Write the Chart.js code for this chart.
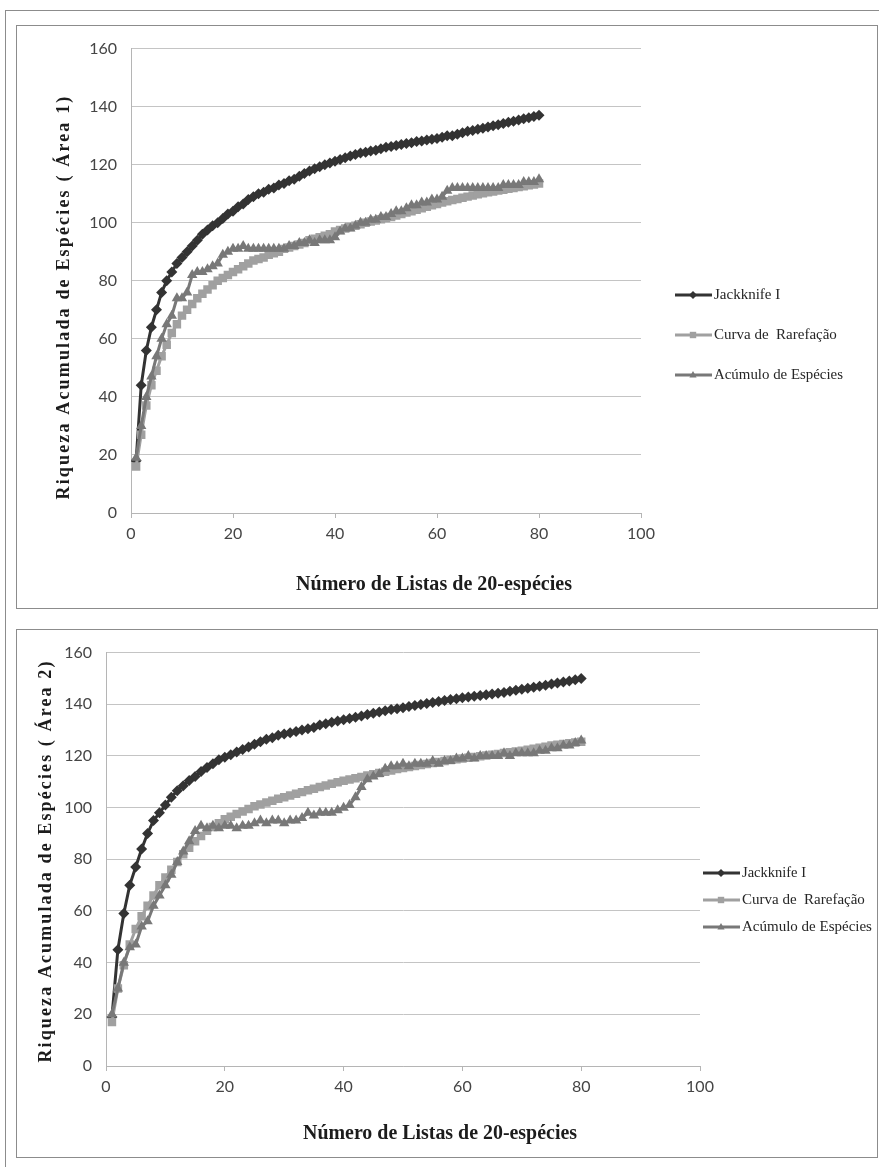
<!DOCTYPE html>
<html>
<head>
<meta charset="utf-8">
<script src="https://cdn.jsdelivr.net/npm/chart.js@4.4.1/dist/chart.umd.min.js"></script>
<style>
body { margin: 0; background: #fff; }
#page { position: relative; width: 879px; height: 1167px; overflow: hidden; background: #fff; }
.frame { position: absolute; box-sizing: border-box; border: 1px solid #8c8c8c; }
canvas { position: absolute; }
</style>
</head>
<body>
<div id="page">
  <div class="frame" style="left:5px;top:10px;width:890px;height:1180px;"></div>
  <div class="frame" style="left:16px;top:25px;width:862px;height:584px;"></div>
  <div class="frame" style="left:16px;top:629px;width:862px;height:529px;"></div>
  <canvas id="area1" width="861" height="583" style="left:16px;top:25px"></canvas>
  <canvas id="area2" width="861" height="528" style="left:16px;top:629px"></canvas>
</div>
<script>
// número de listas de 20 espécies (eixo x)
var listas = [];
for (var i = 1; i <= 80; i++) listas.push(i);

var xTicks = [0, 20, 40, 60, 80, 100];
var yTicks = [0, 20, 40, 60, 80, 100, 120, 140, 160];
var seriesNames = ['Jackknife I', 'Curva de  Rarefação', 'Acúmulo de Espécies'];

// Área 1
var jack1 = [18,44,56,64,70,76,80,83,86,88, 90,92,94,96,97.5,99,100,101.5,103,104,
  105.5,106.5,108,109,110,110.5,111.5,112,113,113.5, 114.5,115,116,117,117.8,118.6,119.3,120,120.6,121.2,
  121.8,122.4,123,123.5,124,124.3,124.7,125,125.5,126, 126.3,126.6,127,127.3,127.6,128,128.2,128.5,128.8,129,
  129.5,130,130,130.5,131,131.5,131.8,132.2,132.6,133, 133.4,133.8,134.2,134.6,135,135.4,135.8,136.2,136.6,137];
var curva1 = [16,27,37,44,49,54,58,62,65,68, 70,72,74,75.5,77,78.5,80,81,82,83,
  84,85,86,87,87.5,88,89,89.5,90,91, 91.5,92,92.5,93,94,94.5,95,95.5,96,97,
  97.5,98,98.5,99,99.5,100,100.4,100.8,101.2,101.6, 102,102.5,103,103.5,104,104.5,105,105.5,106,106.5,
  107,107.4,107.8,108.2,108.6,109,109.4,109.8,110.2,110.5, 110.8,111.1,111.4,111.7,112,112.3,112.6,112.9,113.2,113.5];
var acum1 = [19,30,40,47,54,60,65,68,74,74, 76,82,83,83,84,85,86,89,90,91,
  91,92,91,91,91,91,91,91,91,91, 92,92,93,93,94,93,94,94,94,95,
  97,98,98,99,100,100,101,101,102,102, 103,104,104,105,106,106,107,107,108,108,
  109,111,112,112,112,112,112,112,112,112, 112,112,113,113,113,113,114,114,114,115];

// Área 2
var jack2 = [19,45,59,70,77,84,90,95,98,101, 104,106.5,108.5,110.5,112,114,115.5,117,118.5,119.5,
  120.5,121.5,122.5,123.5,124.5,125.5,126.5,127,128,128.5, 129,129.5,130,130.5,131,132,132.5,133,133.5,134,
  134.5,135,135.5,136,136.5,137,137.5,138,138.3,138.7, 139.1,139.5,139.9,140.3,140.7,141.1,141.5,141.8,142.1,142.5,
  142.8,143.1,143.4,143.7,144,144.3,144.6,145,145.4,145.8, 146.2,146.6,147,147.4,147.8,148.2,148.6,149,149.5,150];
var curva2 = [17,30,39,47,53,58,62,66,70,73, 76,79,82,84.5,87,89,91,92.5,94,95.5,
  96.5,97.5,98.5,99.5,100.5,101.2,102,102.7,103.4,104, 104.7,105.4,106,106.7,107.3,108,108.6,109.2,109.8,110.4,
  110.9,111.4,111.9,112.4,112.9,113.4,113.9,114.4,114.9,115.3, 115.7,116.1,116.5,116.9,117.3,117.7,118,118.4,118.7,119,
  119.3,119.6,119.9,120.2,120.5,120.8,121.1,121.4,121.7,122, 122.4,122.8,123.2,123.6,124,124.3,124.6,124.9,125.2,125.5];
var acum2 = [20,30,40,46,47,54,56,62,66,70, 74,79,83,87,91,93,92,93,92,93,
  93,92,93,93,94,95,94,95,95,94, 95,95,96,98,97,98,98,98,99,100,
  101,104,108,111,112,113,115,116,116,117, 116,117,117,117,118,117,118,118,119,119,
  120,119,120,120,120,120,121,120,121,121, 121,121,122,122,123,123,124,124,125,126];

var estilos = [
    { color: '#333333', pointStyle: 'rectRot', radius: 5.5, order: 2 },
    { color: '#a0a0a0', pointStyle: 'rect', radius: 6, order: 1 },
    { color: '#787878', pointStyle: 'triangle', radius: 6, order: 0 }
];

function pontos(values) {
    return values.map(function (v, i) { return { x: listas[i], y: v }; });
}

function drawMarker(ctx, style, x, y, r) {
    ctx.beginPath();
    if (style === 'rectRot') {
        ctx.moveTo(x, y - r); ctx.lineTo(x + r, y); ctx.lineTo(x, y + r); ctx.lineTo(x - r, y);
    } else if (style === 'rect') {
        ctx.rect(x - r * 0.8, y - r * 0.8, r * 1.6, r * 1.6);
    } else {
        ctx.moveTo(x, y - r); ctx.lineTo(x + r * 0.9, y + r * 0.6); ctx.lineTo(x - r * 0.9, y + r * 0.6);
    }
    ctx.closePath();
    ctx.fill();
}

// titles and legend, drawn relative to the canvas
var decor = {
    id: 'decor',
    afterDraw: function (chart, args, o) {
        var ctx = chart.ctx;
        ctx.save();
        ctx.fillStyle = '#1c1c1c';

        // y axis title, letter spaced
        ctx.font = 'bold 18px "Liberation Serif", "Times New Roman", serif';
        if ('letterSpacing' in ctx) ctx.letterSpacing = '0px';
        var w0 = ctx.measureText(o.yTitle).width;
        if ('letterSpacing' in ctx) ctx.letterSpacing = ((o.yTitleLen - w0) / o.yTitle.length) + 'px';
        ctx.translate(o.yTitleX, o.yTitleY);
        ctx.rotate(-Math.PI / 2);
        ctx.textAlign = 'center';
        ctx.textBaseline = 'middle';
        ctx.fillText(o.yTitle, 0, 0);
        ctx.setTransform(1, 0, 0, 1, 0, 0);
        if ('letterSpacing' in ctx) ctx.letterSpacing = '0px';

        // x axis title
        ctx.font = 'bold 21px "Liberation Serif", "Times New Roman", serif';
        ctx.textAlign = 'center';
        ctx.fillText(o.xTitle, o.xTitleX, o.xTitleY, o.xTitleLen);

        // legend: line with marker, then label
        ctx.font = '15px "Liberation Serif", "Times New Roman", serif';
        ctx.textAlign = 'left';
        chart.data.datasets.forEach(function (ds, i) {
            var y = o.legendY[i];
            ctx.strokeStyle = ds.borderColor;
            ctx.fillStyle = ds.borderColor;
            ctx.lineWidth = 3;
            ctx.beginPath();
            ctx.moveTo(o.legendX, y);
            ctx.lineTo(o.legendX + 37, y);
            ctx.stroke();
            drawMarker(ctx, ds.pointStyle, o.legendX + 18, y, 4);
            ctx.fillStyle = '#262626';
            ctx.fillText(ds.label, o.legendX + 39, y, o.legendW[i]);
        });
        ctx.restore();
    }
};

function makeChart(id, values, layout) {
    var datasets = values.map(function (vals, i) {
        var s = estilos[i];
        return {
            label: seriesNames[i],
            data: pontos(vals),
            borderColor: s.color,
            backgroundColor: s.color,
            borderWidth: 3,
            pointStyle: s.pointStyle,
            pointRadius: s.radius,
            pointBorderWidth: 0,
            order: s.order,
            tension: 0
        };
    });

    return new Chart(document.getElementById(id), {
        type: 'line',
        data: { datasets: datasets },
        plugins: [decor],
        options: {
            responsive: false,
            animation: false,
            devicePixelRatio: 1,
            layout: { padding: { top: layout.top, right: layout.right, left: 0, bottom: 0 } },
            plugins: {
                legend: { display: false },
                tooltip: { enabled: false },
                decor: layout.decor
            },
            scales: {
                x: {
                    type: 'linear',
                    min: 0, max: 100,
                    afterFit: function (s) { s.height = layout.xHeight; },
                    afterBuildTicks: function (s) { s.ticks = xTicks.map(function (v) { return { value: v }; }); },
                    ticks: { font: { family: 'Lato', size: 16 }, color: '#454545', padding: 6, maxRotation: 0 },
                    grid: { drawOnChartArea: false, drawTicks: true, tickLength: 5, color: '#b5b5b5' },
                    border: { display: true, color: '#b5b5b5' }
                },
                y: {
                    min: 0, max: 160,
                    afterFit: function (s) { s.width = layout.yWidth; },
                    afterBuildTicks: function (s) { s.ticks = yTicks.map(function (v) { return { value: v }; }); },
                    ticks: { font: { family: 'Lato', size: 16 }, color: '#454545', padding: 14 },
                    grid: { color: '#c4c4c4', drawTicks: false },
                    border: { display: true, color: '#b5b5b5' }
                }
            }
        }
    });
}

makeChart('area1', [jack1, curva1, acum1], {
    top: 11, right: 236, xHeight: 95, yWidth: 115,
    decor: {
        yTitle: 'Riqueza Acumulada de Espécies ( Área 1)', yTitleX: 48, yTitleY: 272, yTitleLen: 405,
        xTitle: 'Número de Listas de 20-espécies', xTitleX: 418, xTitleY: 560, xTitleLen: 276,
        legendX: 659, legendY: [270, 310, 350], legendW: [67, 123, 129]
    }
});

makeChart('area2', [jack2, curva2, acum2], {
    top: 16, right: 177, xHeight: 91, yWidth: 90,
    decor: {
        yTitle: 'Riqueza Acumulada de Espécies ( Área 2)', yTitleX: 30, yTitleY: 232, yTitleLen: 403,
        xTitle: 'Número de Listas de 20-espécies', xTitleX: 424, xTitleY: 505, xTitleLen: 274,
        legendX: 687, legendY: [244, 271, 298], legendW: [64, 123, 130]
    }
});
</script>
</body>
</html>
